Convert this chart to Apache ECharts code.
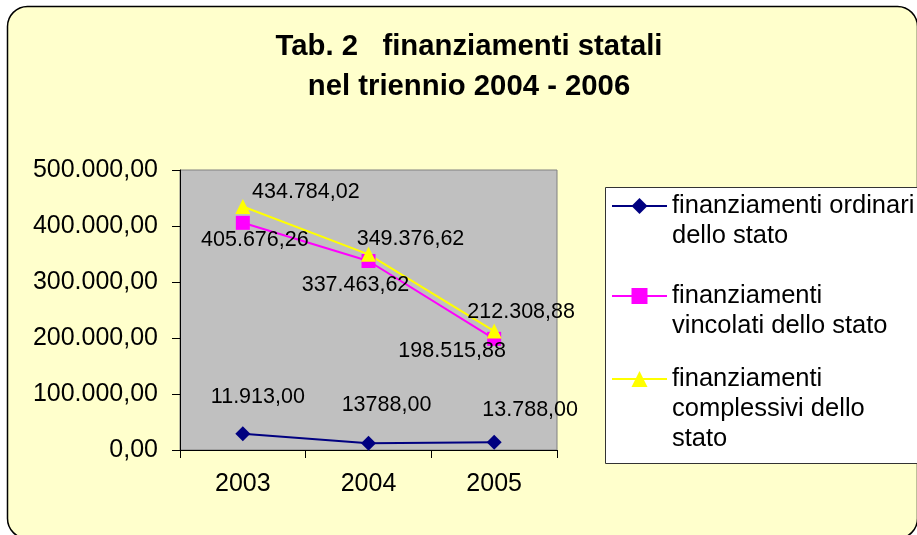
<!DOCTYPE html>
<html><head><meta charset="utf-8">
<script src="https://cdn.jsdelivr.net/npm/echarts@6/dist/echarts.min.js"></script>
<style>html,body{margin:0;padding:0;background:#fff}#c{width:917px;height:535px}</style>
</head><body><div id="c"></div>
<script>
var categories = ['2003', '2004', '2005'];
var seriesNames = ['finanziamenti ordinari dello stato', 'finanziamenti vincolati dello stato', 'finanziamenti complessivi dello stato'];
var ordinari = [29108, 11913, 13788];
var vincolati = [405676.26, 337463.62, 198515.88];
var complessivi = [434784.02, 349376.62, 212308.88];
var ordinariLabels = ['11.913,00', '13788,00', '13.788,00'];
var vincolatiLabels = ['405.676,26', '337.463,62', '198.515,88'];
var complessiviLabels = ['434.784,02', '349.376,62', '212.308,88'];
var yTicks = [0, 100000, 200000, 300000, 400000, 500000];

var FONT = '"Liberation Sans", Arial, sans-serif';
function itFmt(v) {
  var s = Math.round(v).toString().replace(/\B(?=(\d{3})+(?!\d))/g, '.');
  return s + ',00';
}
function mk(values, labels, offsets) {
  return values.map(function (v, i) {
    return { value: v, label: { show: true, position: 'inside', offset: offsets[i], formatter: labels[i] } };
  });
}
var chart = echarts.init(document.getElementById('c'), null, { renderer: 'canvas' });
var lblStyle = { color: '#000', fontFamily: FONT, fontSize: 21.5 };
var legendText = { color: '#000', fontFamily: FONT, fontSize: 25.5, lineHeight: 30 };
var legendLines = [
  '\nfinanziamenti ordinari\ndello stato',
  '\nfinanziamenti\nvincolati dello stato',
  '\n\nfinanziamenti\ncomplessivi dello\nstato'
];
function legend(i, top) {
  return {
    data: [seriesNames[i]], orient: 'vertical', left: 611, top: top, padding: 0,
    itemWidth: 55, itemHeight: 20, textStyle: legendText,
    formatter: function () { return legendLines[i]; }
  };
}
chart.setOption({
  animation: false,
  graphic: [
    { type: 'rect', z: -10, shape: { x: 7.5, y: 6.5, width: 910, height: 532, r: 20 },
      style: { fill: '#FFFFCC', stroke: '#000', lineWidth: 1.5 } },
    { type: 'rect', z: -5, shape: { x: 605.5, y: 187.5, width: 330, height: 276 },
      style: { fill: '#fff', stroke: '#333', lineWidth: 1 } },
    { type: 'text', x: 469, y: 27, style: { text: 'Tab. 2   finanziamenti statali\nnel triennio 2004 - 2006',
      fill: '#000', font: 'bold 29.3px ' + FONT, textAlign: 'center', lineHeight: 40 } }
  ],
  legend: [legend(0, 161), legend(1, 251), legend(2, 304)],
  grid: { left: 180, top: 170, right: 360, bottom: 85, show: true, backgroundColor: '#C0C0C0', borderColor: '#808080', borderWidth: 1 },
  xAxis: {
    type: 'category', data: categories, boundaryGap: true,
    axisLine: { lineStyle: { color: '#000', width: 1 } },
    axisTick: { show: true, length: 8, lineStyle: { color: '#000' }, alignWithLabel: false },
    axisLabel: { color: '#000', fontFamily: FONT, fontSize: 25, margin: 22 },
    splitLine: { show: false }
  },
  yAxis: {
    type: 'value', min: yTicks[0], max: yTicks[yTicks.length - 1], interval: 100000,
    axisLine: { show: true, lineStyle: { color: '#000', width: 1 } },
    axisTick: { show: true, length: 8, lineStyle: { color: '#000' } },
    axisLabel: { color: '#000', fontFamily: FONT, fontSize: 25, margin: 22, formatter: itFmt },
    splitLine: { show: false }
  },
  series: [
    { name: seriesNames[0], type: 'line', data: mk(ordinari, ordinariLabels, [[15, -37], [18, -38], [36, -32]]),
      symbol: 'diamond', symbolSize: 15, lineStyle: { color: '#000080', width: 2 }, itemStyle: { color: '#000080' },
      label: lblStyle },
    { name: seriesNames[1], type: 'line', data: mk(vincolati, vincolatiLabels, [[12, 17], [-13, 24], [-42, 12]]),
      symbol: 'rect', symbolSize: 14, lineStyle: { color: '#FF00FF', width: 2 }, itemStyle: { color: '#FF00FF' },
      label: lblStyle },
    { name: seriesNames[2], type: 'line', data: mk(complessivi, complessiviLabels, [[63, -14], [42, -15], [27, -19]]),
      symbol: 'triangle', symbolSize: 15, lineStyle: { color: '#FFFF00', width: 2 }, itemStyle: { color: '#FFFF00' },
      label: lblStyle }
  ]
});
</script></body></html>
